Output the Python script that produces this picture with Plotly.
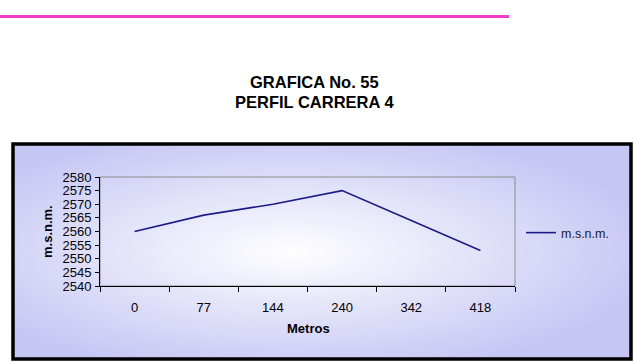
import base64, struct, zlib
import numpy as np
import plotly.graph_objects as go

# ---- data ----
categories = ["0", "77", "144", "240", "342", "418"]
elevation = [2560, 2566, 2570, 2575, 2564, 2553]
series_name = "m.s.n.m."
y_ticks = [2540, 2545, 2550, 2555, 2560, 2565, 2570, 2575, 2580]

W, H = 637, 362
L, R, T, B = 100, 515, 177, 286  # plot area in pixels

def px(x):
    return (x - L) / (R - L)

def py(y):
    return (B - y) / (B - T)

# ---- gradient background image (PNG data URI) ----
def make_png(arr):
    h, w, _ = arr.shape
    raw = b"".join(b"\x00" + arr[i].tobytes() for i in range(h))
    def chunk(tag, data):
        c = struct.pack(">I", len(data)) + tag + data
        return c + struct.pack(">I", zlib.crc32(tag + data) & 0xffffffff)
    png = b"\x89PNG\r\n\x1a\n" + chunk(b"IHDR", struct.pack(">IIBBBBB", w, h, 8, 2, 0, 0, 0))
    png += chunk(b"IDAT", zlib.compress(raw, 9)) + chunk(b"IEND", b"")
    return "data:image/png;base64," + base64.b64encode(png).decode()

gw, gh = 310, 108
xs = np.linspace(0, 1, gw)[None, :]
ys = np.linspace(0, 1, gh)[:, None]
d = np.sqrt(((xs - 0.45) / 0.6) ** 2 + ((ys - 0.5) / 0.6) ** 2)
t = np.clip(d, 0, 1)
edge = np.array([198, 198, 245], dtype=float)
white = np.array([255, 255, 255], dtype=float)
img = (white[None, None, :] * (1 - t[..., None]) + edge[None, None, :] * t[..., None]).astype(np.uint8)
grad_uri = make_png(img)

fig = go.Figure()
fig.add_trace(go.Scatter(
    x=categories, y=elevation, mode="lines", name=series_name,
    line=dict(color="#1c1c85", width=1.6),
))

FONT = "Liberation Sans, Arial, sans-serif"

box_x0, box_y0, box_x1, box_y1 = 13, 144, 631, 359

fig.add_layout_image(dict(
    source=grad_uri, xref="paper", yref="paper",
    x=px(box_x0), y=py(box_y0), sizex=px(box_x1) - px(box_x0), sizey=py(box_y0) - py(box_y1),
    xanchor="left", yanchor="top", sizing="stretch", layer="below",
))

shapes = [
    dict(type="rect", xref="paper", yref="paper",
         x0=px(box_x0), y0=py(box_y1), x1=px(box_x1), y1=py(box_y0),
         line=dict(color="black", width=3.5), fillcolor="rgba(0,0,0,0)", layer="below"),
    dict(type="line", xref="paper", yref="paper",
         x0=px(0), y0=py(16.5), x1=px(509), y1=py(16.5),
         line=dict(color="#f03cc8", width=3)),
    dict(type="rect", xref="paper", yref="paper", x0=0, y0=0, x1=1, y1=1,
         line=dict(color="#8c8c8c", width=1), fillcolor="rgba(0,0,0,0)", layer="below"),
]

annotations = [
    dict(text="<b>GRAFICA No. 55</b>", x=px(314), y=py(82), xref="paper", yref="paper",
         showarrow=False, font=dict(family=FONT, size=16.5, color="black"), xanchor="center", yanchor="middle"),
    dict(text="<b>PERFIL CARRERA 4</b>", x=px(314), y=py(102), xref="paper", yref="paper",
         showarrow=False, font=dict(family=FONT, size=16.5, color="black"), xanchor="center", yanchor="middle"),
    dict(text="<b>Metros</b>", x=px(308), y=py(328), xref="paper", yref="paper",
         showarrow=False, font=dict(family=FONT, size=13, color="black"), xanchor="center", yanchor="middle"),
    dict(text="<b>m.s.n.m.</b>", x=px(47), y=py(232), xref="paper", yref="paper", textangle=-90,
         showarrow=False, font=dict(family=FONT, size=13, color="black"), xanchor="center", yanchor="middle"),
]

fig.update_layout(
    width=W, height=H,
    margin=dict(l=L, r=W - R, t=T, b=H - B, pad=0),
    paper_bgcolor="white", plot_bgcolor="rgba(0,0,0,0)",
    font=dict(family=FONT, size=13, color="black"),
    shapes=shapes, annotations=annotations,
    showlegend=True,
    legend=dict(x=px(521), y=py(233), xanchor="left", yanchor="middle",
                bgcolor="rgba(0,0,0,0)", font=dict(family=FONT, size=12.5, color="#222222"),
                itemwidth=30),
)
fig.update_xaxes(
    type="category", range=[-0.5, len(categories) - 0.5],
    showline=True, linecolor="black", linewidth=1,
    ticks="outside", ticklen=5, tickcolor="black", tickson="boundaries",
    ticklabelstandoff=9, showgrid=False, zeroline=False,
    tickfont=dict(family=FONT, size=13, color="black"),
)
fig.update_yaxes(
    range=[y_ticks[0], y_ticks[-1]], tickvals=y_ticks,
    showline=True, linecolor="black", linewidth=1,
    ticks="outside", ticklen=4, tickcolor="black", ticklabelstandoff=1,
    showgrid=False, zeroline=False,
    tickfont=dict(family=FONT, size=13, color="black"),
)

fig.write_html("out.html")
